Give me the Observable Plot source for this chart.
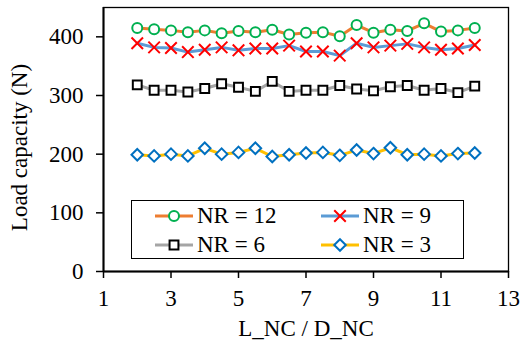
<!DOCTYPE html>
<html><head><meta charset="utf-8">
<style>
body{margin:0;background:#fff;font-family:Liberation Serif, serif;font-size:23px;}
#wrap{position:relative;width:520px;height:345px;}
#legend{position:absolute;left:131px;top:200px;width:333px;height:59px;border:1.3px solid #000;background:#fff;box-sizing:border-box;}
.item{position:absolute;height:28px;display:flex;align-items:center;font-size:23px;color:#000;white-space:nowrap;}
.item svg{display:block;margin-right:3px;}
</style>
<script src="https://cdn.jsdelivr.net/npm/d3@7"></script>
<script src="https://cdn.jsdelivr.net/npm/@observablehq/plot@0.6"></script>
</head><body><div id="wrap"></div>
<script>
// ---- data ----
const xValues = [2, 2.5, 3, 3.5, 4, 4.5, 5, 5.5, 6, 6.5, 7, 7.5, 8, 8.5, 9, 9.5, 10, 10.5, 11, 11.5, 12];
const nr12 = [415, 413, 411, 408, 411, 406, 410, 408, 412, 404, 407, 408, 401, 420, 407, 412, 410, 423, 409, 411, 415];
const nr9  = [389, 382, 381, 374, 378, 382, 377, 380, 380, 385, 375, 375, 368, 389, 382, 385, 388, 382, 378, 380, 386];
const nr6  = [318, 309, 309, 306, 312, 320, 314, 307, 324, 307, 309, 309, 317, 311, 308, 315, 317, 309, 312, 305, 316];
const nr3  = [199, 197, 200, 197, 210, 200, 203, 210, 196, 199, 202, 203, 198, 207, 201, 211, 199, 200, 197, 201, 202];
const seriesNames = ["NR = 12", "NR = 9", "NR = 6", "NR = 3"];
const xTicks = [1, 3, 5, 7, 9, 11, 13];
const yTicks = [0, 100, 200, 300, 400];
const xTitle = "L_NC / D_NC";
const yTitle = "Load capacity (N)";

// ---- styles ----
const FONT = "Liberation Serif";
const FS = 23;
const styles = [
  {line: "#ED7D31", marker: "#00B050", symbol: "circle", r: 5},
  {line: "#5B9BD5", marker: "#FF0000", symbol: "times", r: 5.3},
  {line: "#A5A5A5", marker: "#000000", symbol: "square", r: 5},
  {line: "#FFC000", marker: "#0070C0", symbol: "diamond2", r: 5.2}
];
const valueLists = [nr12, nr9, nr6, nr3];
const rows = valueLists.flatMap((vals, k) => xValues.map((x, i) => ({x, y: vals[i], series: seriesNames[k]})));

const marks = [];
seriesNames.forEach((name, k) => {
  const d = rows.filter(r => r.series === name);
  const s = styles[k];
  marks.push(Plot.line(d, {x: "x", y: "y", stroke: s.line, strokeWidth: 3}));
  marks.push(Plot.dot(d, {x: "x", y: "y", symbol: () => s.symbol, r: s.r, stroke: s.marker, fill: s.symbol === "times" ? "none" : "white", strokeWidth: 2}));
});

const chart = Plot.plot({
  width: 520, height: 345,
  marginLeft: 103, marginRight: 12, marginTop: 7, marginBottom: 74,
  style: {fontFamily: FONT, fontSize: FS + "px", background: "white", color: "black"},
  x: {domain: [1, 13]},
  y: {domain: [0, 450]},
  marks: [
    Plot.frame({stroke: "black", strokeWidth: 1.3}),
    Plot.axisX({ticks: xTicks, tickSize: 7, tickPadding: 11, strokeWidth: 1.5, fontSize: FS, label: null, tickFormat: d => String(d)}),
    Plot.axisY({ticks: yTicks, tickSize: 7, tickPadding: 13, strokeWidth: 1.5, fontSize: FS, label: null, tickFormat: d => String(d)}),
    Plot.ruleY([0], {stroke: "black", strokeWidth: 2}),
    Plot.ruleX([1], {stroke: "black", strokeWidth: 2}),
    ...marks,
    Plot.text([xTitle], {frameAnchor: "bottom", dy: 57, fontSize: FS, fill: "black", lineAnchor: "middle", textAnchor: "middle"}),
    Plot.text([yTitle], {frameAnchor: "left", rotate: -90, dx: -84, dy: 8, fontSize: FS, fill: "black", lineAnchor: "middle", textAnchor: "middle"})
  ]
});
const wrap = document.getElementById("wrap");
wrap.appendChild(chart);

// ---- legend ----
const legend = document.createElement("div");
legend.id = "legend";
wrap.appendChild(legend);
const pos = [[22, 1], [188, 1], [22, 30], [188, 30]];
const symMap = {circle: d3.symbolCircle, times: d3.symbolTimes, square: d3.symbolSquare, diamond2: d3.symbolDiamond2};
seriesNames.forEach((name, k) => {
  const s = styles[k];
  const item = document.createElement("div");
  item.className = "item";
  item.style.left = pos[k][0] + "px";
  item.style.top = pos[k][1] + "px";
  const svg = d3.create("svg").attr("width", 40).attr("height", 20);
  svg.append("line").attr("x1", 1).attr("x2", 39).attr("y1", 10).attr("y2", 10).attr("stroke", s.line).attr("stroke-width", 3);
  svg.append("path").attr("transform", "translate(20,10)")
    .attr("d", d3.symbol(symMap[s.symbol], Math.PI * s.r * s.r)())
    .attr("fill", s.symbol === "times" ? "none" : "white").attr("stroke", s.marker).attr("stroke-width", 2);
  item.appendChild(svg.node());
  const t = document.createElement("span");
  t.textContent = name;
  item.appendChild(t);
  legend.appendChild(item);
});
</script></body></html>
